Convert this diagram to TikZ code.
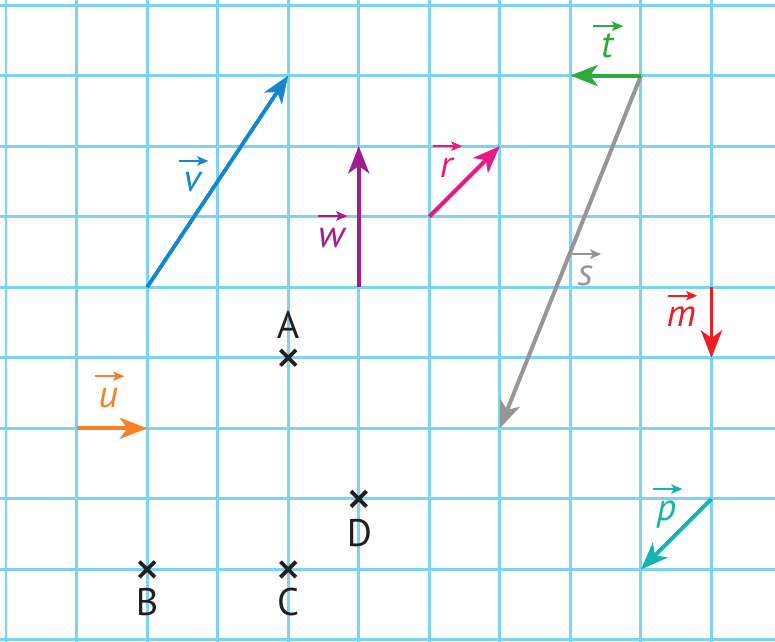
\documentclass[tikz,border=0pt]{standalone}
\usepackage{fontspec}
\setmainfont{PT Sans}
\usetikzlibrary{arrows.meta,shapes.misc}
\definecolor{gridc}{RGB}{125,210,248}
\definecolor{colv}{RGB}{20,135,205}
\definecolor{colw}{RGB}{160,30,140}
\definecolor{colr}{RGB}{230,25,135}
\definecolor{colt}{RGB}{45,170,60}
\definecolor{cols}{RGB}{150,150,150}
\definecolor{colm}{RGB}{235,30,35}
\definecolor{colu}{RGB}{245,130,40}
\definecolor{colp}{RGB}{20,180,175}
\definecolor{ink}{RGB}{35,31,32}
\tikzset{
  gridline/.style={gridc,line width=1.2pt},
  vecarrow/.style={line width=1.6pt,-{Stealth[length=11pt,width=8.5pt,inset=3pt]}},
  vlab/.style={anchor=base,inner sep=0pt,font=\fontsize{15.5}{18}\selectfont\itshape},
  labarrow/.style={line width=0.75pt,-{Stealth[length=4.5pt,width=3.8pt,inset=1pt]}},
  ptmark/.style={cross out,draw=ink,line width=1.5pt,minimum size=4.8pt,inner sep=0pt},
  ptlab/.style={anchor=base,inner sep=0pt,text=ink,font=\fontsize{15.5}{18}\selectfont},
}
\newcommand\veclabel[4]{%
  \node[vlab,text=#4] (#1) at (#2) {#3};
  \draw[draw=#4,labarrow] ([shift={(-5.5pt,12.5pt)}]#1.base) -- ([shift={(6.5pt,12.5pt)}]#1.base);}
\begin{document}
\begin{tikzpicture}[x=1cm,y=-1cm]
\useasboundingbox (-0.085,-0.071) rectangle (10.9,9.015);
\fill[white] (-0.085,-0.071) rectangle (10.9,9.015);
% grid
\foreach \i in {0,...,10} \draw[gridline] (\i,-0.1) -- (\i,9.1);
\foreach \j in {0,...,9} \draw[gridline] (-0.1,\j) -- (11,\j);
% vector end points
\coordinate (v0) at (2,4); \coordinate (v1) at (4,1);
\coordinate (w0) at (5,4); \coordinate (w1) at (5,2);
\coordinate (r0) at (6,3); \coordinate (r1) at (7,2);
\coordinate (t0) at (9,1); \coordinate (t1) at (8,1);
\coordinate (s0) at (9,1); \coordinate (s1) at (7,6);
\coordinate (m0) at (10,4); \coordinate (m1) at (10,5);
\coordinate (u0) at (1,6); \coordinate (u1) at (2,6);
\coordinate (p0) at (10,7); \coordinate (p1) at (9,8);
% vectors
\draw[vecarrow,draw=cols] (s0) -- (s1);
\draw[vecarrow,draw=colv] (v0) -- (v1);
\draw[vecarrow,draw=colw] (w0) -- (w1);
\draw[vecarrow,draw=colr] (r0) -- (r1);
\draw[vecarrow,draw=colt] (t0) -- (t1);
\draw[vecarrow,draw=colm] (m0) -- (m1);
\draw[vecarrow,draw=colu] (u0) -- (u1);
\draw[vecarrow,draw=colp] (p0) -- (p1);
% vector labels
\veclabel{lv}{2.64,2.65}{v}{colv}
\veclabel{lw}{4.61,3.43}{w}{colw}
\veclabel{lr}{6.24,2.44}{r}{colr}
\veclabel{lt}{8.52,0.74}{t}{colt}
\veclabel{ls}{8.21,3.97}{s}{cols}
\veclabel{lm}{9.57,4.56}{m}{colm}
\veclabel{lu}{1.45,5.70}{u}{colu}
\veclabel{lp}{9.36,7.30}{p}{colp}
% points
\node[ptmark] (A) at (4,5) {};
\node[ptmark] (B) at (2,8) {};
\node[ptmark] (C) at (4,8) {};
\node[ptmark] (D) at (5,7) {};
\node[ptlab] (lA) at (4,4.72) {A};
\node[ptlab] (lB) at (2,8.65) {B};
\node[ptlab] (lC) at (4,8.65) {C};
\node[ptlab] (lD) at (5.01,7.68) {D};
\end{tikzpicture}
\end{document}
